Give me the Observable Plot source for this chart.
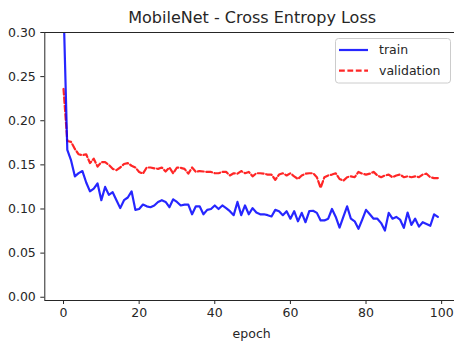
<!DOCTYPE html>
<html>
<head>
<meta charset="utf-8">
<script src="https://cdn.jsdelivr.net/npm/d3@7"></script>
<script src="https://cdn.jsdelivr.net/npm/@observablehq/plot@0.6"></script>
<style>
  html, body { margin: 0; padding: 0; background: white; overflow: hidden; }
</style>
</head>
<body>
<div id="chart"></div>
<script>
const title = "MobileNet - Cross Entropy Loss";
const xLabel = "epoch";
const seriesNames = ["train", "validation"];
const seriesColors = ["#0000ff", "#ff0000"];
const xTicks = [0, 20, 40, 60, 80, 100];
const yTicks = [0.00, 0.05, 0.10, 0.15, 0.20, 0.25, 0.30];

const train = [
  0.330, 0.167, 0.155, 0.137, 0.1406, 0.143, 0.130, 0.120, 0.123, 0.129,
  0.110, 0.125, 0.116, 0.119, 0.110, 0.101, 0.110, 0.113, 0.120, 0.099,
  0.100, 0.105, 0.103, 0.102, 0.104, 0.108, 0.110, 0.108, 0.102, 0.111,
  0.108, 0.104, 0.105, 0.105, 0.094, 0.103, 0.103, 0.094, 0.099, 0.100,
  0.104, 0.100, 0.104, 0.101, 0.0975, 0.093, 0.108, 0.093, 0.104, 0.094,
  0.101, 0.096, 0.094, 0.094, 0.093, 0.0915, 0.099, 0.0975, 0.093, 0.0975,
  0.089, 0.0975, 0.086, 0.0956, 0.085, 0.0975, 0.098, 0.0956, 0.087, 0.087,
  0.089, 0.100, 0.091, 0.079, 0.091, 0.103, 0.089, 0.086, 0.0775, 0.088,
  0.099, 0.094, 0.089, 0.089, 0.084, 0.0756, 0.0956, 0.089, 0.091, 0.088,
  0.0786, 0.096, 0.082, 0.089, 0.080, 0.085, 0.083, 0.081, 0.094, 0.091
];
const validation = [
  0.236, 0.177, 0.176, 0.168, 0.162, 0.161, 0.162, 0.152, 0.157, 0.148,
  0.153, 0.153, 0.150, 0.1455, 0.144, 0.147, 0.151, 0.152, 0.149, 0.147,
  0.142, 0.140, 0.147, 0.147, 0.146, 0.1455, 0.147, 0.1425, 0.147, 0.1405,
  0.147, 0.1466, 0.1455, 0.140, 0.147, 0.142, 0.143, 0.1425, 0.142, 0.142,
  0.1405, 0.1405, 0.142, 0.142, 0.138, 0.1405, 0.140, 0.143, 0.1405, 0.142,
  0.137, 0.1405, 0.1405, 0.140, 0.139, 0.139, 0.133, 0.139, 0.1405, 0.138,
  0.1405, 0.137, 0.134, 0.138, 0.140, 0.1405, 0.1405, 0.136, 0.124, 0.136,
  0.138, 0.139, 0.1405, 0.134, 0.132, 0.136, 0.137, 0.136, 0.142, 0.140,
  0.139, 0.140, 0.142, 0.138, 0.136, 0.138, 0.139, 0.136, 0.138, 0.139,
  0.136, 0.137, 0.136, 0.137, 0.136, 0.139, 0.140, 0.136, 0.135, 0.135
];

const W = 454, H = 343;
const mL = 44.3, mT = 32, mB = 43, mR = 0;
const fontFamily = "'DejaVu Sans', sans-serif";
const ink = "#262626";

const chart = Plot.plot({
  width: W,
  height: H,
  marginLeft: mL,
  marginRight: mR,
  marginTop: mT,
  marginBottom: mB,
  style: { fontFamily, fontSize: "12.5px", color: ink, background: "white", overflow: "hidden" },
  x: { domain: [-4.95, 103.4] },
  y: { domain: [-0.0037, 0.30] },
  marks: [
    Plot.line(validation, {
      x: (d, i) => i, y: d => d, stroke: seriesColors[1], strokeOpacity: 0.85,
      strokeWidth: 2.2, strokeDasharray: "5.8,2.6", clip: true
    }),
    Plot.line(train, {
      x: (d, i) => i, y: d => d, stroke: seriesColors[0], strokeOpacity: 0.85,
      strokeWidth: 2.2, clip: true
    }),
    Plot.ruleX([-4.95], { stroke: ink, strokeWidth: 1 }),
    Plot.ruleY([-0.0037], { stroke: ink, strokeWidth: 1 }),
    Plot.ruleY([0.30], { stroke: ink, strokeWidth: 1 }),
    Plot.axisX(xTicks, {
      tickSize: 4, tickPadding: 4, tickFormat: d => String(d), label: null,
      stroke: ink, fill: ink, fontSize: 12.5
    }),
    Plot.axisY(yTicks, {
      tickSize: 4, tickPadding: 5, tickFormat: d3.format(".2f"), label: null,
      stroke: ink, fill: ink, fontSize: 12.5
    }),
    Plot.text([title], {
      text: d => d, frameAnchor: "top", dy: -15, dx: 2.5, fontSize: 16,
      fill: ink, lineAnchor: "middle"
    }),
    Plot.text([xLabel], {
      text: d => d, frameAnchor: "bottom", dy: 33, dx: 2, fontSize: 12.5,
      fill: ink, lineAnchor: "middle"
    })
  ]
});

document.getElementById("chart").appendChild(chart);

// legend (drawn inside the SVG, upper right)
const svg = d3.select(chart);
const lg = svg.append("g")
  .attr("font-family", fontFamily).attr("font-size", 12.5).attr("text-anchor", "start");
lg.append("rect")
  .attr("x", 335.5).attr("y", 38.5).attr("width", 115).attr("height", 44.5)
  .attr("rx", 3).attr("fill", "white").attr("fill-opacity", 0.8)
  .attr("stroke", "#cccccc").attr("stroke-width", 1);
seriesNames.forEach((name, i) => {
  const yy = 50 + i * 20.7;
  lg.append("line")
    .attr("x1", 339).attr("x2", 368).attr("y1", yy).attr("y2", yy)
    .attr("stroke", seriesColors[i]).attr("stroke-opacity", 0.85).attr("stroke-width", 2.2)
    .attr("stroke-dasharray", i === 1 ? "5.8,2.6" : null);
  lg.append("text")
    .attr("x", 379).attr("y", yy).attr("dy", "0.35em")
    .attr("text-anchor", "start")
    .attr("fill", ink).text(name);
});
</script>
</body>
</html>
